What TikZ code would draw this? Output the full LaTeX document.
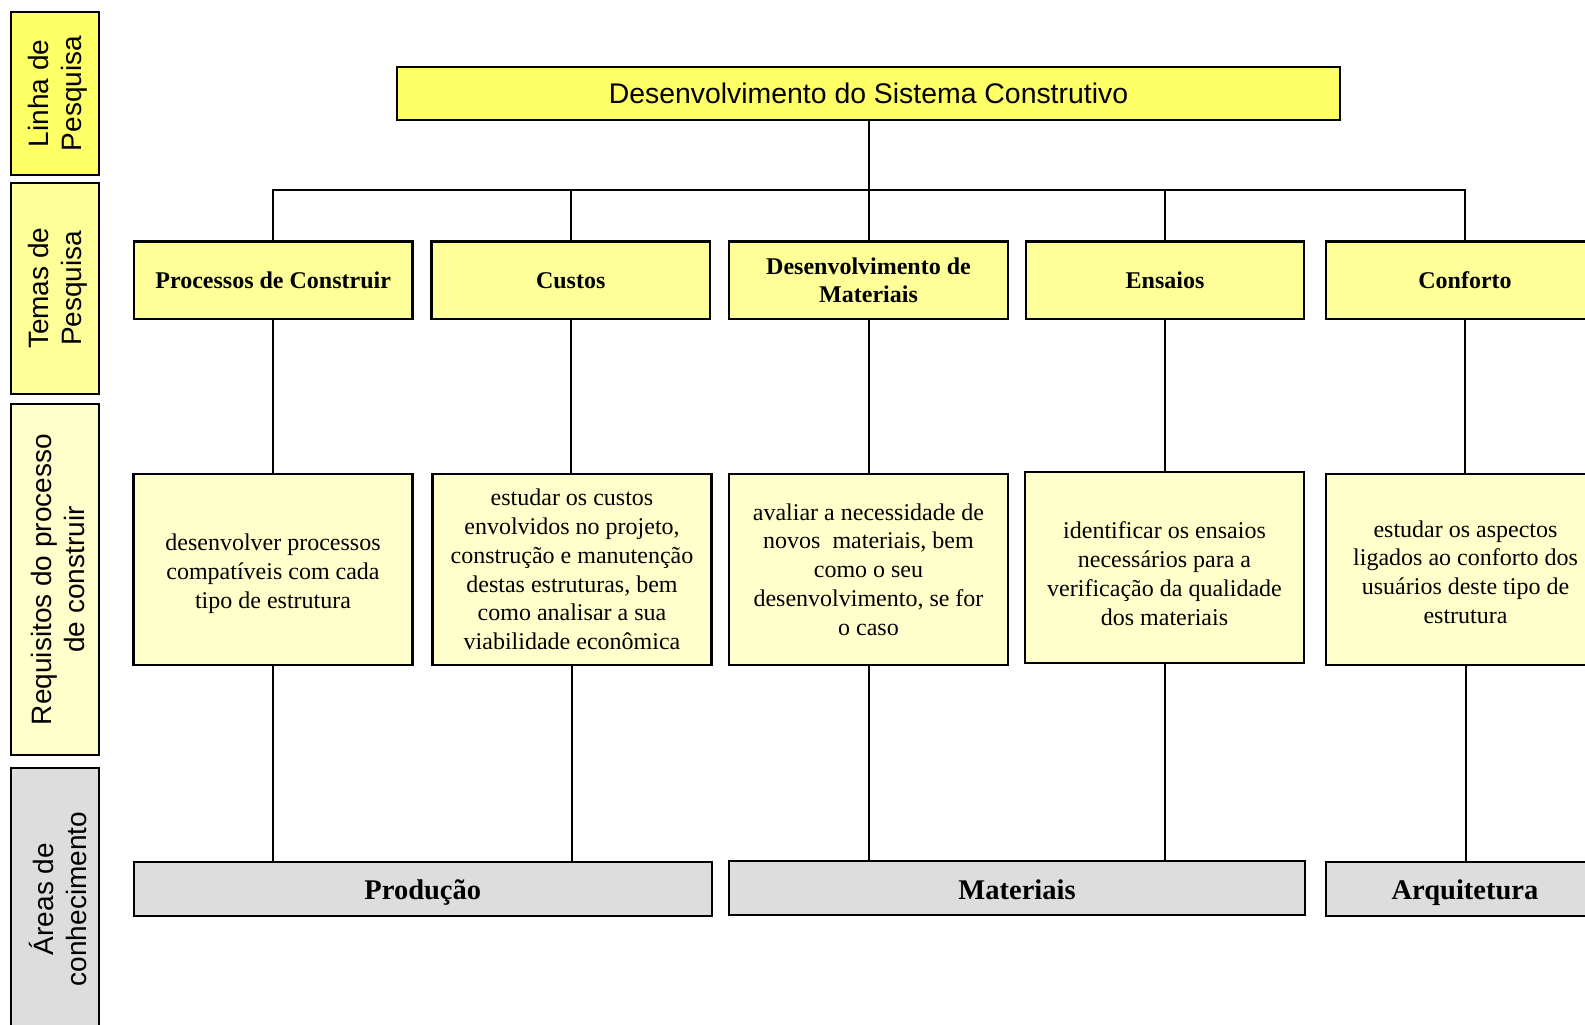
\documentclass[tikz,border=0pt]{standalone}
\usepackage{fontspec}
\setmainfont{Liberation Serif}
\setsansfont{Liberation Sans}
\definecolor{ylLinha}{HTML}{FFFF66}
\definecolor{ylTema}{HTML}{FFFF99}
\definecolor{ylReq}{HTML}{FFFFCC}
\definecolor{grArea}{HTML}{DDDDDD}
\begin{document}
\begin{tikzpicture}[x=1pt,y=-1pt,
  box/.style={draw=black, line width=2.2pt, inner sep=0pt, align=center, anchor=center},
  sidebox/.style={box, line width=2pt},
  sidetext/.style={rotate=90, align=center, font=\sffamily\fontsize{28}{33}\selectfont},
  topbox/.style={box, fill=ylLinha, minimum width=943pt, minimum height=53pt, font=\sffamily\fontsize{28.4}{32}\selectfont},
  temabox/.style={box, fill=ylTema, minimum width=278.5pt, minimum height=77.5pt, font=\bfseries\fontsize{24}{28.8}\selectfont},
  reqbox/.style={box, fill=ylReq, minimum width=279pt, minimum height=191pt},
  reqtext/.style={align=center, inner sep=0pt, font=\fontsize{24}{28.8}\selectfont},
  areabox/.style={box, fill=grArea, minimum height=54pt},
  areatext/.style={inner sep=0pt, font=\bfseries\fontsize{28.5}{32}\selectfont},
  conn/.style={draw=black, line width=2pt}
]
\useasboundingbox (0,0) rectangle (1585,1025);
\clip (0,0) rectangle (1585,1025);

% left column labels
\node[sidebox, fill=ylLinha, minimum width=88.5pt, minimum height=162pt] (sl) at (54.75,93.5) {};
\node[sidetext] (slt) at ([xshift=3pt]sl.center) {Linha de\\Pesquisa};
\node[sidebox, fill=ylTema, minimum width=88.5pt, minimum height=211.5pt] (st) at (54.75,288.25) {};
\node[sidetext] (stt) at ([xshift=3pt]st.center) {Temas de\\Pesquisa};
\node[sidebox, fill=ylReq, minimum width=88pt, minimum height=351pt] (sr) at (55,579.5) {};
\node[sidetext] (srt) at ([xshift=3pt]sr.center) {Requisitos do processo\\de construir};
\node[sidebox, fill=grArea, minimum width=88pt, minimum height=262pt] (sa) at (54.5,899) {};
\node[sidetext] (sat) at ([xshift=3pt]sa.center) {Áreas de\\conhecimento};

% top box
\node[topbox] (top) at (868.5,93.5) {Desenvolvimento do Sistema Construtivo};

% themes
\node[temabox] (t1) at (273.2,280.25) {Processos de Construir};
\node[temabox] (t2) at (570.7,280.25) {Custos};
\node[temabox] (t3) at (868.5,280.25) {Desenvolvimento de\\Materiais};
\node[temabox] (t4) at (1165,280.25) {Ensaios};
\node[temabox] (t5) at (1465,280.25) {Conforto};

% requirements
\node[reqbox] (d1) at (273,569.5) {};
\node[reqtext, yshift=-4pt] (d1t) at (d1.center) {desenvolver processos\\compatíveis com cada\\tipo de estrutura};
\node[reqbox] (d2) at (572,569.5) {};
\node[reqtext] (d2t) at (d2.center) {estudar os custos\\envolvidos no projeto,\\construção e manutenção\\destas estruturas, bem\\como analisar a sua\\viabilidade econômica};
\node[reqbox] (d3) at (868.5,569.5) {};
\node[reqtext] (d3t) at (d3.center) {avaliar a necessidade de\\novos\ \ materiais, bem\\como o seu\\desenvolvimento, se for\\o caso};
\node[reqbox] (d4) at (1164.5,567.5) {};
\node[reqtext, yshift=-6pt] (d4t) at (d4.center) {identificar os ensaios\\necessários para a\\verificação da qualidade\\dos materiais};
\node[reqbox] (d5) at (1465.5,569.5) {};
\node[reqtext, yshift=-2.5pt] (d5t) at (d5.center) {estudar os aspectos\\ligados ao conforto dos\\usuários deste tipo de\\estrutura};

% knowledge areas
\node[areabox, minimum width=577.6pt] (b1) at (422.8,889) {};
\node[areatext, yshift=-3pt] (b1t) at (b1.center) {Produção};
\node[areabox, minimum width=576pt] (b2) at (1017,888) {};
\node[areatext, yshift=-1.5pt] (b2t) at (b2.center) {Materiais};
\node[areabox, minimum width=278pt] (b3) at (1465,889) {};
\node[areatext, yshift=-4pt] (b3t) at (b3.center) {Arquitetura};

% connectors
\coordinate (bus) at (868,190);
\draw[conn] (top.south) -- (t3.north);
\draw[conn] (t1.north) |- (bus) -| (t5.north);
\draw[conn] (t2.north) -- (t2.north |- bus);
\draw[conn] (t4.north) -- (t4.north |- bus);

\foreach \i in {1,...,5}{
  \draw[conn] (t\i.south) -- (t\i.south |- d\i.north);
}
\draw[conn] (d1.south) -- (d1.south |- b1.north);
\draw[conn] (d2.south) -- (d2.south |- b1.north);
\draw[conn] (d3.south) -- (d3.south |- b2.north);
\draw[conn] (d4.south) -- (d4.south |- b2.north);
\draw[conn] (d5.south) -- (d5.south |- b3.north);
\end{tikzpicture}
\end{document}
